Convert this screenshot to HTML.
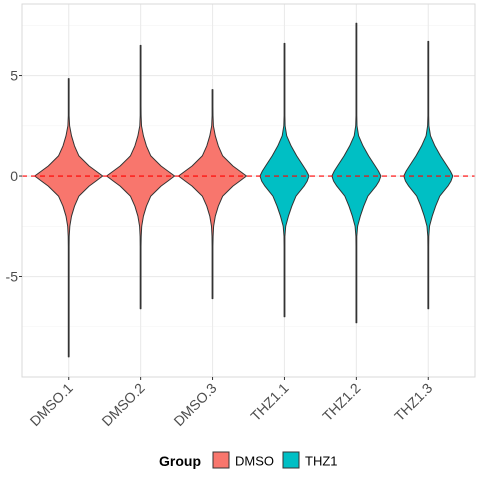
<!DOCTYPE html>
<html><head><meta charset="utf-8"><style>
body{margin:0;background:#fff;font-family:"Liberation Sans",sans-serif}
svg text{font-family:"Liberation Sans",sans-serif}
</style></head><body>
<svg id="c" width="480" height="480"></svg>
<script>
const categories=["DMSO.1","DMSO.2","DMSO.3","THZ1.1","THZ1.2","THZ1.3"];
const groups=["DMSO","DMSO","DMSO","THZ1","THZ1","THZ1"];
const maxVals=[4.85,6.5,4.3,6.6,7.6,6.7];
const minVals=[-9.0,-6.6,-6.1,-7.0,-7.3,-6.6];
const yTicks=[-5,0,5];
const yMinor=[-7.5,-2.5,2.5,7.5];
const profileOffsets=[-3.5,-3,-2.5,-2,-1.5,-1,-0.5,-0.25,0,0.25,0.5,1,1.5,2,2.5,3,3.5];
const dmsoProfile=[0.01,0.015,0.03,0.08,0.17,0.3,0.6,0.8,1,0.8,0.6,0.3,0.17,0.08,0.025,0.012,0.01];
const thz1Profile=[0.01,0.02,0.05,0.16,0.3,0.47,0.8,0.93,1,0.9,0.77,0.5,0.27,0.09,0.025,0.012,0.01];
const groupColors={DMSO:"#F8766D",THZ1:"#00BFC4"};
const groupWidth={DMSO:34,THZ1:24.5};
const hline=0;
const NS="http://www.w3.org/2000/svg";
const svg=document.getElementById('c');
const L=22,R=475,T=4,B=377,yLo=-10.0,yHi=8.56;
const ys=v=>B-(v-yLo)/(yHi-yLo)*(B-T);
const step=(R-L)/(categories.length+0.3);
const xc=i=>L+step*(0.65+i);
function mk(t,a,p){const e=document.createElementNS(NS,t);for(const k in a)e.setAttribute(k,a[k]);(p||svg).appendChild(e);return e;}
const panel=mk('rect',{x:L,y:T,width:R-L,height:B-T,fill:'#fff'});


yMinor.forEach(v=>{if(v>yLo&&v<yHi){const g=mk('line',{x1:L,x2:R,y1:ys(v),y2:ys(v),stroke:'#f3f3f3','stroke-width':0.6});

}});
yTicks.forEach(v=>{const g=mk('line',{x1:L,x2:R,y1:ys(v),y2:ys(v),stroke:'#ebebeb','stroke-width':1.1});

});
categories.forEach((c,i)=>{const g=mk('line',{x1:xc(i),x2:xc(i),y1:T,y2:B,stroke:'#ebebeb','stroke-width':1.1});

});
categories.forEach((c,i)=>{
 const grp=groups[i],prof=grp==="DMSO"?dmsoProfile:thz1Profile,w=groupWidth[grp],cx=xc(i);
 const pts=[];
 pts.push([0.4,maxVals[i]]);
 for(let k=profileOffsets.length-1;k>=0;k--){pts.push([Math.max(prof[k]*w,0.4),profileOffsets[k]]);}
 pts.push([0.4,minVals[i]]);
 let d='';
 pts.forEach((p,k)=>{d+=(k?'L':'M')+(cx+p[0]).toFixed(1)+','+ys(p[1]).toFixed(1);});
 for(let k=pts.length-1;k>=0;k--){d+='L'+(cx-pts[k][0]).toFixed(1)+','+ys(pts[k][1]).toFixed(1);}
 d+='Z';
 const v=mk('path',{d:d,fill:groupColors[grp],stroke:'#333','stroke-width':1,'stroke-linejoin':'round'});
 
 
});
const hl=mk('line',{x1:L,x2:R,y1:ys(hline),y2:ys(hline),stroke:'#FF0000','stroke-width':1.1,'stroke-dasharray':'5,4'});


const border=mk('rect',{x:L,y:T,width:R-L,height:B-T,fill:'none',stroke:'#d9d9d9','stroke-width':1});


yTicks.forEach(v=>{
 const tk=mk('line',{x1:L-3,x2:L,y1:ys(v),y2:ys(v),stroke:'#333','stroke-width':1});
 
 
 const t=mk('text',{x:L-4,y:ys(v)+5,'text-anchor':'end','font-size':14,fill:'#4d4d4d'});t.textContent=v;
 
 
});
categories.forEach((c,i)=>{
 const tk=mk('line',{x1:xc(i),x2:xc(i),y1:B,y2:B+3,stroke:'#333','stroke-width':1});
 
 
 const t=mk('text',{x:0,y:0,'text-anchor':'end','font-size':14,fill:'#4d4d4d',transform:`translate(${xc(i)+5},${B+12}) rotate(-45)`});t.textContent=c;
 
 
});
const lg=mk('g',{});


const lt=mk('text',{x:159,y:466,'font-size':14,'font-weight':'bold',fill:'#000'},lg);lt.textContent='Group';


[["DMSO",212.5],["THZ1",282.5]].forEach(([g,x])=>{
 const r=mk('rect',{x:x+0.5,y:452,width:16,height:16,fill:groupColors[g],stroke:'#333','stroke-width':1},lg);
 
 
 const t=mk('text',{x:x+22.5,y:465.5,'font-size':13,fill:'#000'},lg);t.textContent=g;
 
 
});
</script>
</body></html>
